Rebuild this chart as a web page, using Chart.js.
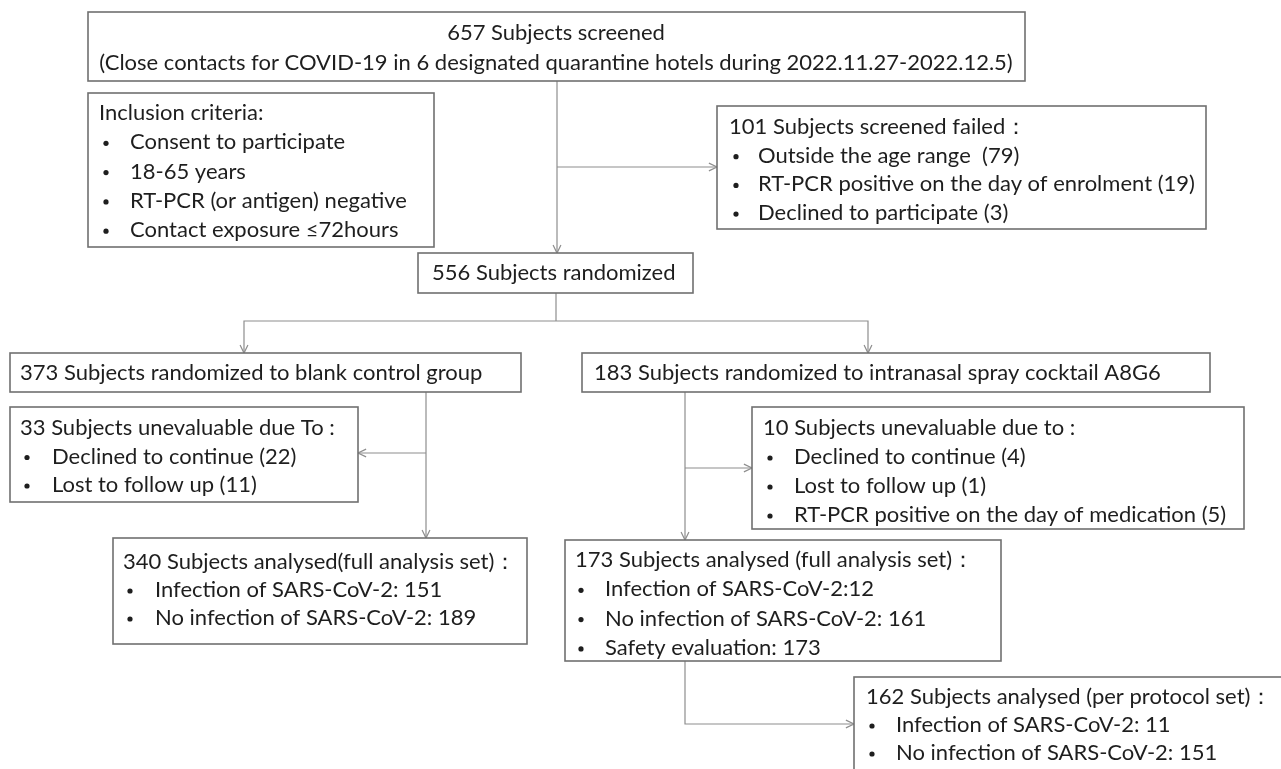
<!DOCTYPE html>
<html>
<head>
<meta charset="utf-8">
<script src="https://cdn.jsdelivr.net/npm/chart.js@4"></script>
<style>
  html, body { margin: 0; padding: 0; background: #fff; }
  #wrap { width: 1281px; height: 769px; }
</style>
</head>
<body>
<div id="wrap"><canvas id="flow" width="1281" height="769"></canvas></div>
<script>
// counts in the flow
var screenedCount = 657;
var randomizedCount = 556;
var groupNames = ['blank control group', 'intranasal spray cocktail A8G6'];
var groupCounts = [373, 183];
var inclusionCriteria = ['Consent to participate', '18-65 years', 'RT-PCR (or antigen) negative', 'Contact exposure \u226472hours'];
var failedReasons = ['Outside the age range ', 'RT-PCR positive on the day of enrolment', 'Declined to participate'];
var failedCounts = [79, 19, 3];
var unevalControlReasons = ['Declined to continue', 'Lost to follow up'];
var unevalControlCounts = [22, 11];
var unevalTreatReasons = ['Declined to continue', 'Lost to follow up', 'RT-PCR positive on the day of medication'];
var unevalTreatCounts = [4, 1, 5];
var analysedCounts = [340, 173, 162];
var infectedCounts = [151, 12, 11];
var notInfectedCounts = [189, 161, 151];
var safetyCount = 173;

function sum(a) { return a.reduce(function(s, v) { return s + v; }, 0); }

// box texts, built from the arrays above
var boxes = {
  screened: { center: true, lines: [screenedCount + ' Subjects screened',
    '(Close contacts for COVID-19 in 6 designated quarantine hotels during 2022.11.27-2022.12.5)'] },
  inclusion: { title: 'Inclusion criteria:', bullets: inclusionCriteria },
  failed: { title: sum(failedCounts) + ' Subjects screened failed\uff1a',
    bullets: failedReasons.map(function(r, i) { return r + ' (' + failedCounts[i] + ')'; }) },
  randomized: { title: randomizedCount + ' Subjects randomized', bullets: [] },
  control: { title: groupCounts[0] + ' Subjects randomized to ' + groupNames[0], bullets: [] },
  treat: { title: groupCounts[1] + ' Subjects randomized to ' + groupNames[1], bullets: [] },
  unevalC: { title: sum(unevalControlCounts) + ' Subjects unevaluable due To :',
    bullets: unevalControlReasons.map(function(r, i) { return r + ' (' + unevalControlCounts[i] + ')'; }) },
  unevalT: { title: sum(unevalTreatCounts) + ' Subjects unevaluable due to :',
    bullets: unevalTreatReasons.map(function(r, i) { return r + ' (' + unevalTreatCounts[i] + ')'; }) },
  fasC: { title: analysedCounts[0] + ' Subjects analysed(full analysis set)\uff1a',
    bullets: ['Infection of SARS-CoV-2: ' + infectedCounts[0], 'No infection of SARS-CoV-2: ' + notInfectedCounts[0]] },
  fasT: { title: analysedCounts[1] + ' Subjects analysed (full analysis set)\uff1a',
    bullets: ['Infection of SARS-CoV-2:' + infectedCounts[1], 'No infection of SARS-CoV-2: ' + notInfectedCounts[1],
      'Safety evaluation: ' + safetyCount] },
  ppsT: { title: analysedCounts[2] + ' Subjects analysed (per protocol set)\uff1a',
    bullets: ['Infection of SARS-CoV-2: ' + infectedCounts[2], 'No infection of SARS-CoV-2: ' + notInfectedCounts[2]] }
};

// layout (page units = axis units)
var layout = {
  screened:   { x: 88,  y: 12,  w: 937, h: 69,  y0: 33,  gap: 30, cx: 556 },
  inclusion:  { x: 88,  y: 93,  w: 346, h: 154, y0: 113, gap: 29.3, tx: 99,  bx: 103, lx: 130 },
  failed:     { x: 717, y: 106, w: 489, h: 123, y0: 127, gap: 28.7, tx: 729, bx: 733, lx: 758 },
  randomized: { x: 418, y: 253, w: 275, h: 40,  y0: 273, gap: 29, tx: 432 },
  control:    { x: 10,  y: 353, w: 511, h: 39,  y0: 373, gap: 29, tx: 20 },
  treat:      { x: 582, y: 353, w: 628, h: 39,  y0: 373, gap: 29, tx: 594 },
  unevalC:    { x: 10,  y: 407, w: 348, h: 95,  y0: 428, gap: 28.5, tx: 20,  bx: 24,  lx: 52 },
  unevalT:    { x: 752, y: 407, w: 492, h: 122, y0: 428, gap: 29, tx: 763, bx: 767, lx: 794 },
  fasC:       { x: 113, y: 538, w: 414, h: 106, y0: 562, gap: 28, tx: 123, bx: 127, lx: 155 },
  fasT:       { x: 565, y: 540, w: 436, h: 121, y0: 560, gap: 29.3, tx: 575, bx: 578, lx: 605 },
  ppsT:       { x: 854, y: 677, w: 440, h: 110, y0: 697, gap: 28, tx: 866, bx: 869, lx: 896 }
};

// connectors: polyline points, arrow at the end when arrow is true
var links = [
  { pts: [[557, 81], [557, 253]], arrow: true },
  { pts: [[557, 167], [717, 167]], arrow: true },
  { pts: [[556, 293], [556, 321]], arrow: false },
  { pts: [[556, 321], [244, 321], [244, 353]], arrow: true },
  { pts: [[556, 321], [868, 321], [868, 353]], arrow: true },
  { pts: [[426, 392], [426, 538]], arrow: true },
  { pts: [[426, 453], [358, 453]], arrow: true },
  { pts: [[685, 392], [685, 540]], arrow: true },
  { pts: [[685, 468], [752, 468]], arrow: true },
  { pts: [[685, 661], [685, 724], [854, 724]], arrow: true }
];

var FONT = '22px Lato, "Noto Sans", sans-serif';

var flowPlugin = {
  id: 'flow',
  afterDraw: function(chart) {
    var ctx = chart.ctx;
    var sx = chart.scales.x, sy = chart.scales.y;
    function X(v) { return sx.getPixelForValue(v); }
    function Y(v) { return sy.getPixelForValue(v); }
    ctx.save();

    // connectors
    ctx.strokeStyle = '#8e8e8e';
    ctx.lineWidth = 1.2;
    links.forEach(function(l) {
      ctx.beginPath();
      l.pts.forEach(function(p, i) {
        if (i === 0) ctx.moveTo(X(p[0]), Y(p[1])); else ctx.lineTo(X(p[0]), Y(p[1]));
      });
      ctx.stroke();
      if (l.arrow) {
        var a = l.pts[l.pts.length - 2], b = l.pts[l.pts.length - 1];
        var ang = Math.atan2(Y(b[1]) - Y(a[1]), X(b[0]) - X(a[0]));
        var ex = X(b[0]), ey = Y(b[1]);
        ctx.beginPath();
        ctx.moveTo(ex - 9 * Math.cos(ang - 0.45), ey - 9 * Math.sin(ang - 0.45));
        ctx.lineTo(ex, ey);
        ctx.lineTo(ex - 9 * Math.cos(ang + 0.45), ey - 9 * Math.sin(ang + 0.45));
        ctx.stroke();
      }
    });

    // boxes
    Object.keys(layout).forEach(function(k) {
      var L = layout[k], B = boxes[k];
      ctx.strokeStyle = '#707070';
      ctx.lineWidth = 1.6;
      ctx.fillStyle = '#ffffff';
      ctx.fillRect(X(L.x), Y(L.y), L.w, L.h);
      ctx.strokeRect(X(L.x), Y(L.y), L.w, L.h);

      ctx.fillStyle = '#1e1e1e';
      ctx.font = FONT;
      ctx.textBaseline = 'middle';
      if (B.center) {
        ctx.textAlign = 'center';
        B.lines.forEach(function(t, i) { ctx.fillText(t, X(L.cx), Y(L.y0 + i * L.gap)); });
        return;
      }
      ctx.textAlign = 'left';
      ctx.fillText(B.title, X(L.tx), Y(L.y0));
      B.bullets.forEach(function(t, i) {
        var yy = Y(L.y0 + (i + 1) * L.gap);
        ctx.font = FONT;
        ctx.fillText(t, X(L.lx), yy);
        // small round bullet
        ctx.beginPath();
        ctx.arc(X(L.bx) + 3, yy + 1, 2.6, 0, Math.PI * 2);
        ctx.fill();
      });
    });
    ctx.restore();
  }
};

new Chart(document.getElementById('flow'), {
  type: 'scatter',
  data: { datasets: [{ data: [], showLine: false }] },
  options: {
    responsive: false,
    animation: false,
    devicePixelRatio: 1,
    layout: { padding: 0 },
    plugins: { legend: { display: false }, tooltip: { enabled: false } },
    scales: {
      x: { type: 'linear', min: 0, max: 1281, display: false },
      y: { type: 'linear', min: 0, max: 769, reverse: true, display: false }
    }
  },
  plugins: [flowPlugin]
});
</script>
</body>
</html>
